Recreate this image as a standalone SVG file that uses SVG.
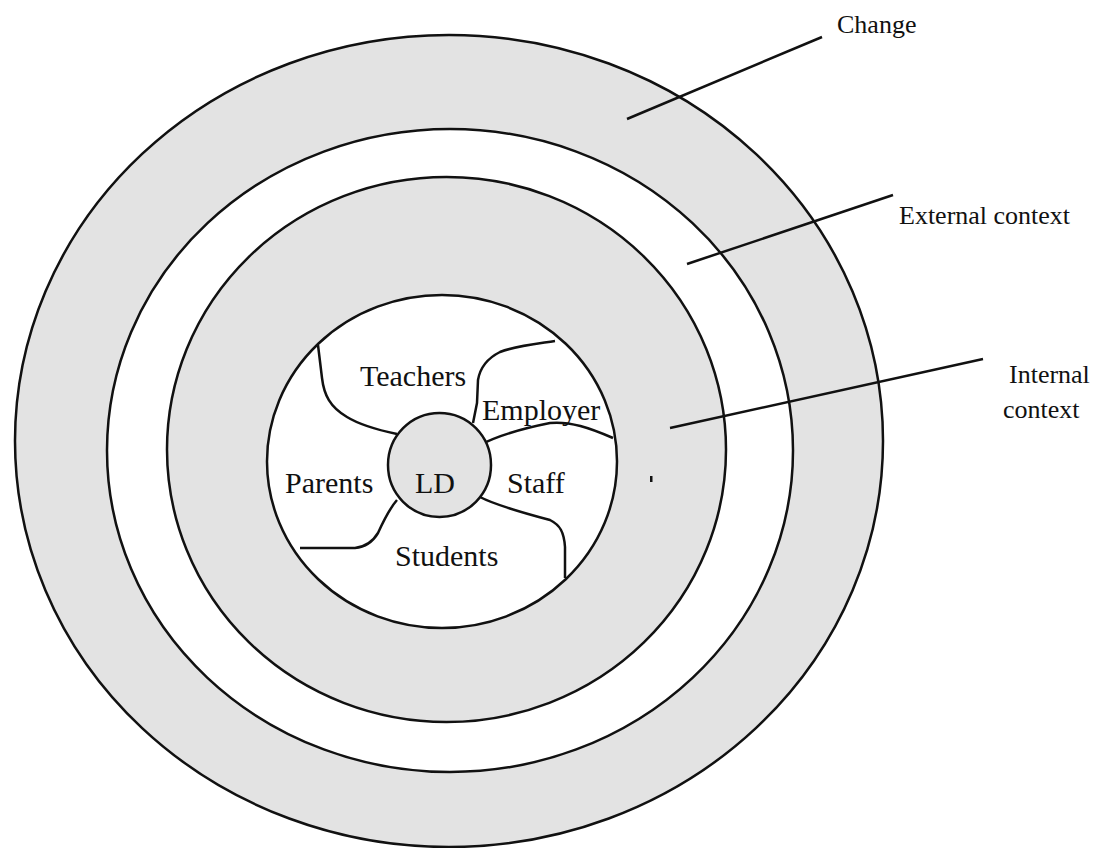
<svg xmlns="http://www.w3.org/2000/svg" width="1094" height="848" viewBox="0 0 1094 848">
<style>
.ring{stroke:#111;stroke-width:2.5}
.gray{fill:#e3e3e3}
.white{fill:#ffffff}
.div{fill:none;stroke:#111;stroke-width:2.5;stroke-linejoin:round}
.lead{fill:none;stroke:#111;stroke-width:2.5}
.lbl{font-family:"Liberation Serif","Times New Roman",serif;font-size:30px;fill:#111}
.side{font-family:"Liberation Serif","Times New Roman",serif;font-size:26px;fill:#111}
</style>
<rect width="1094" height="848" fill="#ffffff"/>
<g id="change-ring"><ellipse class="ring gray" cx="449" cy="441" rx="434" ry="406"/></g>
<g id="external-ring"><ellipse class="ring white" cx="450" cy="450.5" rx="343" ry="321.5"/></g>
<g id="internal-ring"><ellipse class="ring gray" cx="446.5" cy="449.5" rx="279.5" ry="272.5"/></g>
<g id="stakeholders"><ellipse class="ring white" cx="442" cy="461.5" rx="175" ry="166.5"/></g>
<g id="dividers">
<path class="div" d="M318,345 L322,378 C324,395 330,407 347,417 C360,425 378,430 397,434"/>
<path class="div" d="M473,423 L477,403 L478,380 C480,368 488,358 500,352 C515,346 535,344 555,341"/>
<path class="div" d="M480,445 C495,437 515,430 550,423 C570,421 590,428 613,438"/>
<path class="div" d="M480,497 C495,505 520,512 550,520 C560,525 564,532 565,547 L565,578"/>
<path class="div" d="M397,500 C390,508 383,522 378,533 C372,543 365,547 355,548 L300,548"/>
</g>
<g id="ld"><ellipse class="ring gray" cx="439.5" cy="465" rx="51.5" ry="52"/></g>
<g id="labels">
<text class="lbl" x="360" y="386">Teachers</text>
<text class="lbl" x="482" y="420">Employer</text>
<text class="lbl" x="285" y="493">Parents</text>
<text class="lbl" x="415" y="493">LD</text>
<text class="lbl" x="507" y="493">Staff</text>
<text class="lbl" x="395" y="566">Students</text>
</g>
<g id="connectors">
<line class="lead" x1="822" y1="37" x2="627" y2="119"/>
<line class="lead" x1="893" y1="195" x2="687" y2="264"/>
<line class="lead" x1="983" y1="359" x2="670" y2="428"/>
</g>
<g id="side-labels">
<text class="side" x="837" y="33">Change</text>
<text class="side" x="899" y="224">External context</text>
<text class="side" x="1009" y="383">Internal</text>
<text class="side" x="1003" y="418">context</text>
</g>
<rect x="650" y="476" width="2.5" height="6" fill="#111"/>
</svg>
